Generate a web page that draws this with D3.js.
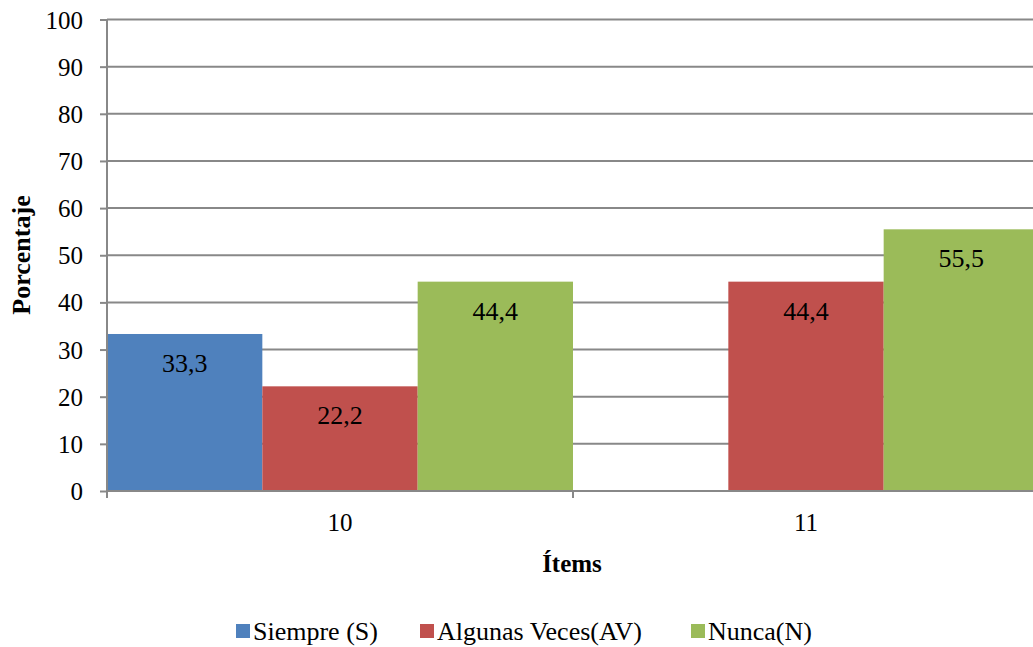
<!DOCTYPE html>
<html>
<head>
<meta charset="utf-8">
<script src="https://cdn.jsdelivr.net/npm/d3@7"></script>
<style>
  body { margin: 0; background: #fff; }
  svg { display: block; }
</style>
</head>
<body>
<svg id="chart" width="1033" height="647"></svg>
<script>
// Survey items and response shares (%)
const items = ["10", "11"];
const seriesNames = ["Siempre (S)", "Algunas Veces(AV)", "Nunca(N)"];
const siempre = [33.3, 0];
const algunas = [22.2, 44.4];
const nunca = [44.4, 55.5];
const yTicks = [0, 10, 20, 30, 40, 50, 60, 70, 80, 90, 100];
const colors = ["#4F81BD", "#C0504D", "#9BBB59"];

const FONT = '"Liberation Serif", "Times New Roman", serif';
const values = [siempre, algunas, nunca];
const svg = d3.select("#chart");

const plotLeft = 107, plotTop = 19.5, plotW = 932, plotH = 471.5;

const x = d3.scaleBand().domain(items).range([plotLeft, plotLeft + plotW]).paddingInner(0).paddingOuter(0);
const xs = d3.scaleBand().domain(seriesNames).range([0, x.bandwidth()]).paddingInner(0).paddingOuter(0);
const y = d3.scaleLinear().domain([0, 100]).range([plotTop + plotH, plotTop]);

// horizontal gridlines
svg.append("g")
  .selectAll("line")
  .data(yTicks.filter(d => d > 0))
  .join("line")
  .attr("x1", plotLeft).attr("x2", 1033)
  .attr("y1", d => y(d)).attr("y2", d => y(d))
  .attr("stroke", "#888").attr("stroke-width", 2);

// bars
const groups = svg.append("g").selectAll("g")
  .data(items)
  .join("g")
  .attr("transform", d => `translate(${x(d)},0)`);

const cells = (d, i) => seriesNames.map((s, j) => ({ s, j, v: values[j][i] })).filter(e => e.v > 0);

groups.selectAll("rect")
  .data(cells)
  .join("rect")
  .attr("x", d => xs(d.s))
  .attr("width", xs.bandwidth())
  .attr("y", d => y(d.v))
  .attr("height", d => y(0) - y(d.v))
  .attr("fill", d => colors[d.j]);

// value labels inside the bars
groups.selectAll("text")
  .data(cells)
  .join("text")
  .attr("x", d => xs(d.s) + xs.bandwidth() / 2)
  .attr("y", d => y(d.v) + 38)
  .attr("text-anchor", "middle")
  .style("font-family", FONT).style("font-size", "26px")
  .attr("fill", "#000")
  .text(d => d3.format(".1f")(d.v).replace(".", ","));

// y axis
const yAxis = svg.append("g")
  .attr("transform", `translate(${plotLeft},0)`)
  .call(d3.axisLeft(y).tickValues(yTicks).tickSize(7).tickPadding(17).tickFormat(d3.format("d")));
yAxis.select(".domain").attr("stroke", "#888").attr("stroke-width", 2).attr("d", `M0,${plotTop}V${plotTop + plotH}`);
yAxis.selectAll(".tick line").attr("stroke", "#888").attr("stroke-width", 2);
yAxis.selectAll(".tick text").style("font-family", FONT).style("font-size", "25px")
  .attr("fill", "#000").attr("dy", "0.34em");

// x axis
const xAxis = svg.append("g")
  .attr("transform", `translate(0,${y(0)})`)
  .call(d3.axisBottom(x).tickSize(0).tickPadding(22));
xAxis.select(".domain").attr("stroke", "#888").attr("stroke-width", 2).attr("d", `M${plotLeft},0H1033`);
xAxis.selectAll(".tick text").style("font-family", FONT).style("font-size", "25px")
  .attr("fill", "#000").attr("dy", "0.71em");
// category separators on the x axis
svg.append("g").selectAll("line")
  .data([plotLeft, x("11")])
  .join("line")
  .attr("x1", d => d).attr("x2", d => d)
  .attr("y1", y(0)).attr("y2", y(0) + 7)
  .attr("stroke", "#888").attr("stroke-width", 2);

// axis titles
svg.append("text")
  .attr("x", 572).attr("y", 572)
  .attr("text-anchor", "middle")
  .style("font-family", FONT).style("font-size", "25px").style("font-weight", "bold")
  .text("Ítems");

svg.append("text")
  .attr("transform", "translate(30,255) rotate(-90)")
  .attr("text-anchor", "middle")
  .style("font-family", FONT).style("font-size", "26px").style("font-weight", "bold")
  .text("Porcentaje");

// legend
const legendX = [236, 420, 691];
const legend = svg.append("g").selectAll("g")
  .data(seriesNames)
  .join("g")
  .attr("transform", (d, i) => `translate(${legendX[i]},624)`);
legend.append("rect").attr("width", 14).attr("height", 14).attr("fill", (d, i) => colors[i]);
legend.append("text").attr("x", 17).attr("y", 16)
  .style("font-family", FONT).style("font-size", "26px")
  .attr("fill", "#000").text(d => d);
</script>
</body>
</html>
